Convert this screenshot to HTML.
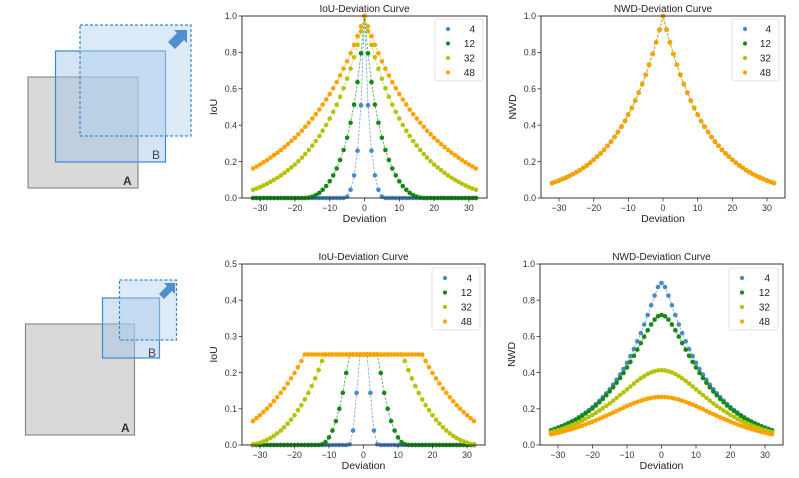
<!DOCTYPE html>
<html><head><meta charset="utf-8"><style>
html,body{margin:0;padding:0;background:#fff;}
svg{display:block;font-family:"Liberation Sans","DejaVu Sans",sans-serif;}
</style></head><body>
<svg id="root" width="799" height="478" viewBox="0 0 799 478" xmlns="http://www.w3.org/2000/svg">
<g>
<rect x="28" y="77" width="110" height="111" fill="#d9d9d9" stroke="#8c8c8c" stroke-width="1.2"/>
<rect x="55.5" y="51" width="110" height="111" fill="rgba(160,195,230,0.45)" stroke="#3d8ad0" stroke-width="1.2"/>
<rect x="80" y="25" width="111" height="111" fill="rgba(180,208,238,0.45)" stroke="#3d8ad0" stroke-width="1.2" stroke-dasharray="3,2"/>
<path d="M168,42 L177,33 L174,30 L187,30 L187,43 L184,40 L175,49 Z" fill="#4f8fd0"/>
<text x="123" y="185" font-size="12" font-weight="bold" fill="#333">A</text>
<text x="152" y="159" font-size="12" fill="#445">B</text>
</g>
<g>
<rect x="25.5" y="324" width="109" height="111" fill="#d9d9d9" stroke="#8c8c8c" stroke-width="1.2"/>
<rect x="102.5" y="298" width="57" height="60" fill="rgba(160,195,230,0.45)" stroke="#3d8ad0" stroke-width="1.2"/>
<rect x="119.5" y="280" width="57" height="60" fill="rgba(180,208,238,0.45)" stroke="#3d8ad0" stroke-width="1.2" stroke-dasharray="3,2"/>
<path d="M159,294 L167,286 L164,283 L175,283 L175,294 L172,291 L164,299 Z" fill="#4f8fd0"/>
<text x="121" y="432" font-size="12" font-weight="bold" fill="#333">A</text>
<text x="148" y="357" font-size="12" fill="#445">B</text>
</g>
</svg>
<script>
// deviation values 0..32 (curves are mirrored to negative deviations)
const deviation = [0,1,2,3,4,5,6,7,8,9,10,11,12,13,14,15,16,17,18,19,20,21,22,23,24,25,26,27,28,29,30,31,32];
const seriesNames = ["4","12","32","48"];
const xTicks = [-30,-20,-10,0,10,20,30];
const xTickLabels = ["\u221230","\u221220","\u221210","0","10","20","30"];
const yTicksA = [0,0.2,0.4,0.6,0.8,1.0];
const yTickLabelsA = ["0.0","0.2","0.4","0.6","0.8","1.0"];
const yTicksB = [0,0.1,0.2,0.3,0.4,0.5];
const yTickLabelsB = ["0.0","0.1","0.2","0.3","0.4","0.5"];

const iouTop4 = [1,.51,.26,.124,.045,.007,0,0,0,0,0,0,0,0,0,0,0,0,0,0,0,0,0,0,0,0,0,0,0,0,0,0,0];
const iouTop12 = [1,.795,.637,.513,.413,.331,.264,.209,.162,.124,.092,.066,.045,.028,.016,.007,.002,0,0,0,0,0,0,0,0,0,0,0,0,0,0,0,0];
const iouTop32 = [1,.916,.841,.773,.711,.655,.603,.556,.512,.473,.436,.401,.370,.340,.313,.288,.264,.242,.222,.202,.184,.168,.152,.138,.124,.111,.100,.089,.078,.069,.060,.052,.045];
const iouTop48 = [1,.943,.890,.841,.795,.751,.711,.673,.637,.603,.571,.541,.513,.486,.460,.436,.413,.391,.370,.350,.331,.313,.296,.280,.264,.249,.235,.222,.209,.196,.184,.173,.162];

const nwdTop4 = [1,.925,.855,.791,.732,.677,.626,.579,.535,.495,.458,.423,.392,.362,.335,.310,.287,.265,.245,.227,.210,.194,.179,.166,.153,.142,.131,.121,.112,.104,.096,.089,.082];
const nwdTop12 = [1,.925,.855,.791,.732,.677,.626,.579,.535,.495,.458,.423,.392,.362,.335,.310,.287,.265,.245,.227,.210,.194,.179,.166,.153,.142,.131,.121,.112,.104,.096,.089,.082];
const nwdTop32 = [1,.925,.855,.791,.732,.677,.626,.579,.535,.495,.458,.423,.392,.362,.335,.310,.287,.265,.245,.227,.210,.194,.179,.166,.153,.142,.131,.121,.112,.104,.096,.089,.082];
const nwdTop48 = [1,.925,.855,.791,.732,.677,.626,.579,.535,.495,.458,.423,.392,.362,.335,.310,.287,.265,.245,.227,.210,.194,.179,.166,.153,.142,.131,.121,.112,.104,.096,.089,.082];

const iouBot4 = [.25,.25,.144,.040,.002,0,0,0,0,0,0,0,0,0,0,0,0,0,0,0,0,0,0,0,0,0,0,0,0,0,0,0,0];
const iouBot12 = [.25,.25,.25,.25,.25,.199,.144,.100,.066,.040,.021,.008,.002,0,0,0,0,0,0,0,0,0,0,0,0,0,0,0,0,0,0,0,0];
const iouBot32 = [.25,.25,.25,.25,.25,.25,.25,.25,.25,.25,.25,.25,.232,.207,.184,.163,.144,.126,.110,.096,.082,.070,.059,.049,.040,.032,.025,.019,.014,.010,.006,.003,.002];
const iouBot48 = [.25,.25,.25,.25,.25,.25,.25,.25,.25,.25,.25,.25,.25,.25,.25,.25,.25,.25,.232,.215,.199,.184,.170,.156,.144,.132,.121,.110,.100,.091,.082,.074,.066];

const nwdBot4 = [.895,.873,.826,.772,.718,.666,.618,.573,.530,.491,.454,.420,.389,.360,.333,.308,.285,.264,.244,.226,.209,.193,.179,.165,.153,.141,.131,.121,.112,.104,.096,.089,.082];
const nwdBot12 = [.718,.711,.693,.666,.634,.599,.563,.527,.493,.459,.428,.398,.370,.344,.319,.296,.275,.254,.236,.218,.202,.188,.174,.161,.149,.138,.128,.118,.109,.101,.094,.087,.080];
const nwdBot32 = [.413,.412,.407,.401,.392,.380,.368,.354,.339,.323,.307,.291,.276,.260,.245,.230,.216,.203,.190,.178,.166,.155,.145,.135,.126,.117,.109,.102,.095,.088,.082,.076,.071];
const nwdBot48 = [.266,.265,.263,.260,.256,.251,.245,.238,.231,.223,.215,.206,.197,.188,.179,.170,.162,.153,.145,.137,.129,.121,.114,.107,.101,.094,.088,.083,.077,.072,.068,.063,.059];

const COLORS = ["#4a88c7","#148a14","#b6c20a","#ffa200"];
const NS = "http://www.w3.org/2000/svg";
const root = document.getElementById('root');

function mk(tag, attrs, parent){
  const e = document.createElementNS(NS, tag);
  for (const k in attrs) e.setAttribute(k, attrs[k]);
  parent.appendChild(e);
  return e;
}

function drawChart(c){
  const g = mk('g', {}, root);
  
  
  const X0=c.x0, X1=c.x1, Y0=c.y0, Y1=c.y1;
  const xs = v => X0 + (v + 35.2) / 70.4 * (X1 - X0);
  const ys = v => Y1 - (v - c.ymin) / (c.ymax - c.ymin) * (Y1 - Y0);
  c.series.forEach((arr, si) => {
    const pts = [];
    for (let i = deviation.length - 1; i >= 1; i--) pts.push([-deviation[i], arr[i]]);
    for (let i = 0; i < deviation.length; i++) pts.push([deviation[i], arr[i]]);
    const sg = mk('g', {}, g);
    
    
    const line = mk('polyline', {points: pts.map(p => xs(p[0]).toFixed(1) + ',' + ys(p[1]).toFixed(1)).join(' '), fill:'none', stroke:COLORS[si], 'stroke-width':0.9, 'stroke-dasharray':'2.5,1.5', opacity:0.7}, sg);
    
    
    pts.forEach(p => {
      const d = mk('circle', {cx: xs(p[0]).toFixed(1), cy: ys(p[1]).toFixed(1), r: 2.3, fill: COLORS[si]}, sg);
      
      
    });
  });
  const fr = mk('rect', {x:X0, y:Y0, width:X1-X0, height:Y1-Y0, fill:'none', stroke:'#333', 'stroke-width':1}, g);
  
  
  xTicks.forEach((t, i) => {
    const x = xs(t);
    mk('line', {x1:x, x2:x, y1:Y1, y2:Y1+3.5, stroke:'#333', 'stroke-width':0.8}, g);
    const tl = mk('text', {x:x, y:Y1+13, 'font-size':8.8, fill:'#333', 'text-anchor':'middle'}, g);
    tl.textContent = xTickLabels[i];
    
    
  });
  c.yTicks.forEach((t, i) => {
    const y = ys(t);
    mk('line', {x1:X0-3.5, x2:X0, y1:y, y2:y, stroke:'#333', 'stroke-width':0.8}, g);
    const tl = mk('text', {x:X0-5, y:y+3.2, 'font-size':8.8, fill:'#333', 'text-anchor':'end'}, g);
    tl.textContent = c.yLabels[i];
    
    
  });
  const ttl = mk('text', {x:(X0+X1)/2, y:Y0-4, 'font-size':10, fill:'#222', 'text-anchor':'middle'}, g);
  ttl.textContent = c.title;
  
  
  const xl = mk('text', {x:(X0+X1)/2, y:Y1+24, 'font-size':10.5, fill:'#222', 'text-anchor':'middle'}, g);
  xl.textContent = 'Deviation';
  
  
  const yl = mk('text', {x:0, y:0, 'font-size':10.5, fill:'#222', 'text-anchor':'middle', transform:'translate(' + (X0-25) + ',' + ((Y0+Y1)/2) + ') rotate(-90)'}, g);
  yl.textContent = c.ylabel;
  
  
  const lg = mk('g', {}, g);
  
  
  mk('rect', {x:c.lx, y:c.ly, width:c.lw, height:62, rx:2, fill:'#fff', stroke:'#d6d6d6', 'stroke-width':0.8, opacity:0.9}, lg);
  seriesNames.forEach((n, i) => {
    const y = c.ly + 10 + i * 14.5;
    const m = mk('circle', {cx:c.lx+13, cy:y, r:2.1, fill:COLORS[i]}, lg);
    
    
    const t = mk('text', {x:c.lx+c.lw-8, y:y+3.5, 'font-size':10, fill:'#222', 'text-anchor':'end'}, lg);
    t.textContent = n;
    
    
  });
}

drawChart({name:'iou-chart-top', title:'IoU-Deviation Curve', ylabel:'IoU', x0:242, x1:487, y0:16, y1:198, ymin:0, ymax:1, yTicks:yTicksA, yLabels:yTickLabelsA, series:[iouTop4,iouTop12,iouTop32,iouTop48], lx:435, ly:19, lw:48});
drawChart({name:'nwd-chart-top', title:'NWD-Deviation Curve', ylabel:'NWD', x0:541, x1:785, y0:16, y1:198, ymin:0, ymax:1, yTicks:yTicksA, yLabels:yTickLabelsA, series:[nwdTop4,nwdTop12,nwdTop32,nwdTop48], lx:732, ly:19, lw:47});
drawChart({name:'iou-chart-bottom', title:'IoU-Deviation Curve', ylabel:'IoU', x0:242, x1:485, y0:264, y1:445, ymin:0, ymax:0.5, yTicks:yTicksB, yLabels:yTickLabelsB, series:[iouBot4,iouBot12,iouBot32,iouBot48], lx:432, ly:268, lw:48});
drawChart({name:'nwd-chart-bottom', title:'NWD-Deviation Curve', ylabel:'NWD', x0:540, x1:783, y0:264, y1:445, ymin:0, ymax:1, yTicks:yTicksA, yLabels:yTickLabelsA, series:[nwdBot4,nwdBot12,nwdBot32,nwdBot48], lx:729, ly:268, lw:49});
</script>
</body></html>
